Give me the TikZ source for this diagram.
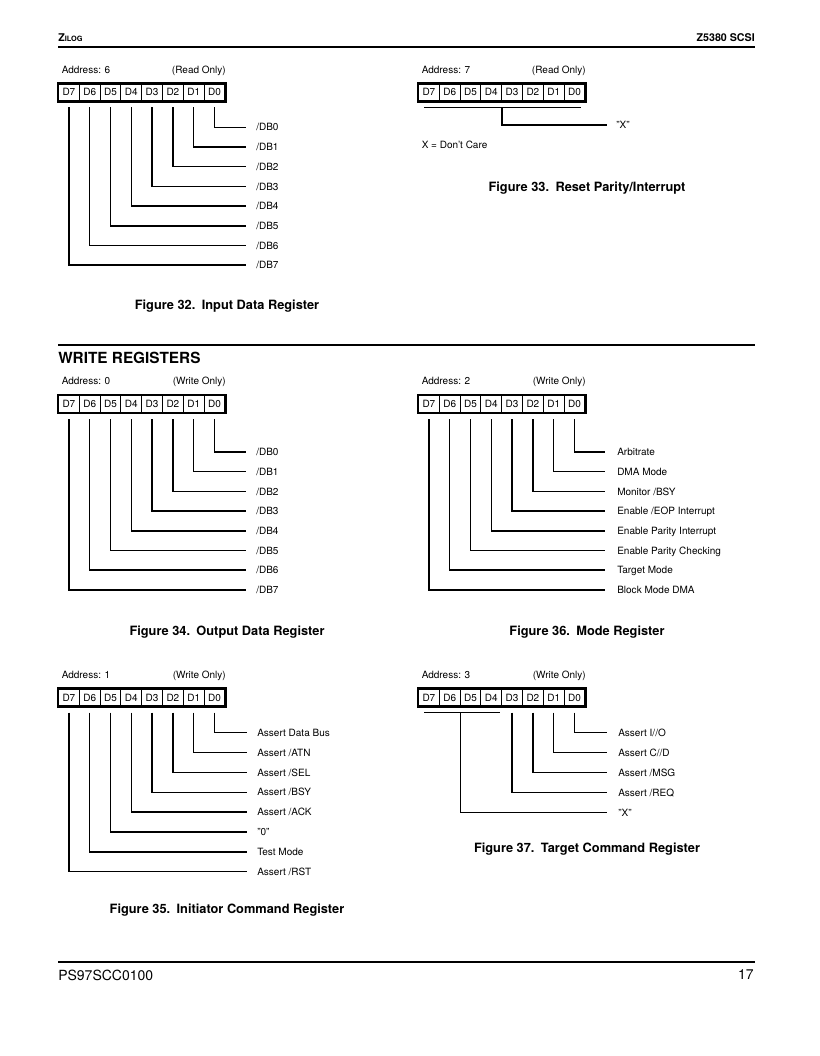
\documentclass[tikz,border=0pt]{standalone}
\usepackage{fontspec}
\setmainfont{TeX Gyre Heros}
\usetikzlibrary{positioning, calc}
\tikzset{
  bitcell/.style={draw, line width=0.75pt, minimum width=15.6pt, minimum height=12.75pt, inner sep=0pt, font=\fontsize{7.5}{9}\selectfont},
  regframe/.style={draw, line width=1.9pt},
  lbl/.style={anchor=west, inner sep=0pt, font=\fontsize{7.5}{9}\selectfont, text height=5.4pt, text depth=0pt},
  bitline/.style={line width=1.15pt},
  caption/.style={inner sep=0pt, font=\fontsize{9.6}{11}\selectfont\bfseries, text height=6.9pt, text depth=0pt},
  pagerule/.style={line width=#1},
}

\begin{document}
\begin{tikzpicture}[x=0.75pt, y=-0.75pt]
  \useasboundingbox (0,0) rectangle (819,1056);

  % Page header
  \node[anchor=west, inner sep=0pt, font=\fontsize{8}{9}\selectfont\bfseries] (hdr-l) at (58,38) {Z{\fontsize{5.5}{6}\selectfont ILOG}};
  \node[anchor=east, inner sep=0pt, font=\fontsize{8}{9}\selectfont\bfseries] (hdr-r) at (755,38) {Z5380 SCSI};
  \coordinate (hdr-a) at (58,47);
  \coordinate (hdr-b) at (755,47);
  \draw[pagerule=1.5pt] (hdr-a) -- (hdr-b);

  % Figure 32: input data register
  \foreach \b in {0,...,7}
    \node[bitcell] (a\b) at ({58.5+10.4+(7-\b)*20.8},92.3) {D\b};
  \draw[regframe] (a7.north west) rectangle (a0.south east);
  \node[lbl] (a-addr) at (61.5,70) {Address: 6};
  \node[lbl, anchor=east] (a-mode) at (226,70) {(Read Only)};
  \foreach \b in {0,...,7} {
    \node[lbl] (a-l\b) at (256,{127.3+19.7*\b}) {/DB\b};
    \draw[bitline] ([yshift=-4.5pt]a\b.south) |- ([xshift=-7.5pt]a-l\b.west);
  }
  \node[caption] (a-cap) at (227,305) {Figure 32.\enspace Input Data Register};

  % Figure 33: reset parity/interrupt
  \foreach \b in {0,...,7}
    \node[bitcell] (b\b) at ({418.5+10.4+(7-\b)*20.8},92.3) {D\b};
  \draw[regframe] (b7.north west) rectangle (b0.south east);
  \node[lbl] (b-addr) at (421.5,70) {Address: 7};
  \node[lbl, anchor=east] (b-mode) at (586,70) {(Read Only)};
  \coordinate (b-bl) at ([xshift=4.5pt,yshift=-4.5pt]b7.south west);
  \coordinate (b-br) at ([xshift=-3pt,yshift=-4.5pt]b0.south east);
  \draw[bitline] (b-bl) -- (b-br);
  \node[lbl] (b-x) at (616,125) {"X"};
  \draw[bitline] ([yshift=-4.5pt]b4.south east) |- ([xshift=-7pt]b-x.west);
  \node[lbl] (b-note) at (421.5,145) {X = Don't Care};
  \node[caption] (b-cap) at (587,187) {Figure 33.\enspace Reset Parity/Interrupt};

  % Section heading
  \coordinate (sec-a) at (58,345);
  \coordinate (sec-b) at (755,345);
  \draw[pagerule=1pt] (sec-a) -- (sec-b);
  \node[anchor=west, inner sep=0pt, font=\fontsize{11.5}{13}\selectfont\bfseries, text height=8.3pt, text depth=0pt] (sec) at (58,358) {WRITE REGISTERS};

  % Figure 34: output data register
  \foreach \b in {0,...,7}
    \node[bitcell] (c\b) at ({58.5+10.4+(7-\b)*20.8},404) {D\b};
  \draw[regframe] (c7.north west) rectangle (c0.south east);
  \node[lbl] (c-addr) at (61.5,381) {Address: 0};
  \node[lbl, anchor=east] (c-mode) at (226,381) {(Write Only)};
  \foreach \b in {0,...,7} {
    \node[lbl] (c-l\b) at (256,{452+19.7*\b}) {/DB\b};
    \draw[bitline] ([yshift=-4.5pt]c\b.south) |- ([xshift=-7.5pt]c-l\b.west);
  }
  \node[caption] (c-cap) at (227,631) {Figure 34.\enspace Output Data Register};

  % Figure 36: mode register
  \foreach \b in {0,...,7}
    \node[bitcell] (d\b) at ({418.5+10.4+(7-\b)*20.8},404) {D\b};
  \draw[regframe] (d7.north west) rectangle (d0.south east);
  \node[lbl] (d-addr) at (421.5,381) {Address: 2};
  \node[lbl, anchor=east] (d-mode) at (586,381) {(Write Only)};
  \foreach \txt [count=\b from 0] in {Arbitrate, DMA Mode, Monitor /BSY, Enable /EOP Interrupt,
      Enable Parity Interrupt, Enable Parity Checking, Target Mode, Block Mode DMA} {
    \node[lbl] (d-l\b) at (617,{452+19.7*\b}) {\txt};
    \draw[bitline] ([yshift=-4.5pt]d\b.south) |- ([xshift=-9pt]d-l\b.west);
  }
  \node[caption] (d-cap) at (587,631) {Figure 36.\enspace Mode Register};

  % Figure 35: initiator command register
  \foreach \b in {0,...,7}
    \node[bitcell] (e\b) at ({58.5+10.4+(7-\b)*20.8},697.5) {D\b};
  \draw[regframe] (e7.north west) rectangle (e0.south east);
  \node[lbl] (e-addr) at (61.5,675) {Address: 1};
  \node[lbl, anchor=east] (e-mode) at (226,675) {(Write Only)};
  \foreach \txt [count=\b from 0] in {Assert Data Bus, Assert /ATN, Assert /SEL, Assert /BSY,
      Assert /ACK, "0", Test Mode, Assert /RST} {
    \node[lbl] (e-l\b) at (257,{732.7+19.86*\b}) {\txt};
    \draw[bitline] ([yshift=-4.5pt]e\b.south) |- ([xshift=-7.5pt]e-l\b.west);
  }
  \node[caption] (e-cap) at (227,909) {Figure 35.\enspace Initiator Command Register};

  % Figure 37: target command register
  \foreach \b in {0,...,7}
    \node[bitcell] (f\b) at ({418.5+10.4+(7-\b)*20.8},697.5) {D\b};
  \draw[regframe] (f7.north west) rectangle (f0.south east);
  \node[lbl] (f-addr) at (421.5,675) {Address: 3};
  \node[lbl, anchor=east] (f-mode) at (586,675) {(Write Only)};
  \foreach \txt [count=\b from 0] in {Assert I//O, Assert C//D, Assert /MSG, Assert /REQ} {
    \node[lbl] (f-l\b) at (618,{732.7+20*\b}) {\txt};
    \draw[bitline] ([yshift=-4.5pt]f\b.south) |- ([xshift=-8.25pt]f-l\b.west);
  }
  \coordinate (f-bl) at ([xshift=4.5pt,yshift=-4.5pt]f7.south west);
  \coordinate (f-br) at ([xshift=-1.5pt,yshift=-4.5pt]f4.south east);
  \draw[bitline] (f-bl) -- (f-br);
  \node[lbl] (f-x) at (618,812.7) {"X"};
  \draw[bitline] ([yshift=-4.5pt]f6.south east) |- ([xshift=-8.25pt]f-x.west);
  \node[caption] (f-cap) at (587,848) {Figure 37.\enspace Target Command Register};

  % Page footer
  \coordinate (ftr-a) at (58,962);
  \coordinate (ftr-b) at (755,962);
  \draw[pagerule=2.2pt] (ftr-a) -- (ftr-b);
  \node[anchor=west, inner sep=0pt, font=\fontsize{10.5}{12}\selectfont] (ftr-l) at (58,975) {PS97SCC0100};
  \node[anchor=east, inner sep=0pt, font=\fontsize{10.5}{12}\selectfont] (ftr-r) at (754,975) {17};
\end{tikzpicture}
\end{document}
